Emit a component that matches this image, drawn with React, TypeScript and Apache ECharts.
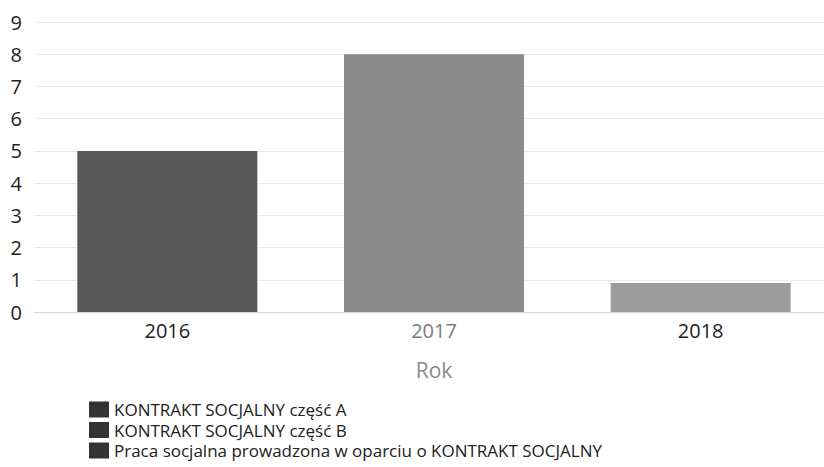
import React, { useEffect, useRef } from "react";
import * as echarts from "echarts";

const years = ["2016", "2017", "2018"];
const seriesNames = [
  "KONTRAKT SOCJALNY część A",
  "KONTRAKT SOCJALNY część B",
  "Praca socjalna prowadzona w oparciu o KONTRAKT SOCJALNY",
];
const partA: (number | string)[] = [5, "-", "-"];
const partB: (number | string)[] = ["-", 8, "-"];
const praca: (number | string)[] = ["-", "-", 0.9];
const yTicks = { min: 0, max: 9, interval: 1 };

const barColors = ["#595959", "#8a8a8a", "#9c9c9c"];
const labelColors = ["#222222", "#7a7a7a", "#222222"];

export default function App() {
  const ref = useRef<HTMLDivElement>(null);
  useEffect(() => {
    if (!ref.current) return;
    const chart = echarts.init(ref.current, null, { renderer: "svg" });
    const font = "'Open Sans', 'Noto Sans', sans-serif";
    const datasets = [partA, partB, praca];
    chart.setOption({
      animation: false,
      backgroundColor: "#ffffff",
      textStyle: { fontFamily: font },
      grid: { left: 34, right: 16, top: 22, bottom: 155, containLabel: false },
      legend: {
        orient: "vertical",
        left: 89,
        top: 401,
        padding: 0,
        itemWidth: 20,
        itemHeight: 16,
        itemGap: 3.5,
        icon: "rect",
        itemStyle: { color: "#333333" },
        textStyle: { fontSize: 17, lineHeight: 17, color: "#222222", fontFamily: font },
        data: seriesNames,
      },
      xAxis: {
        type: "category",
        data: years,
        name: "Rok",
        nameLocation: "middle",
        nameGap: 47,
        nameTextStyle: { fontSize: 21, color: "#8a8a8a", fontFamily: font },
        axisLine: { show: true, lineStyle: { color: "#d8d8d8" } },
        axisTick: { show: false },
        axisLabel: {
          fontSize: 20,
          margin: 8,
          fontFamily: font,
          color: (_v: any, i: number) => labelColors[i],
        },
      },
      yAxis: {
        type: "value",
        min: yTicks.min,
        max: yTicks.max,
        interval: yTicks.interval,
        axisLine: { show: false },
        axisTick: { show: false },
        axisLabel: { fontSize: 20, color: "#222222", margin: 12, fontFamily: font },
        splitLine: { lineStyle: { color: "#e8e8e8" } },
      },
      series: seriesNames.map((name, i) => ({
        name,
        type: "bar",
        stack: "total",
        barWidth: "67.5%",
        data: datasets[i],
        itemStyle: { color: barColors[i] },
      })),
    });
    return () => chart.dispose();
  }, []);
  return (
    <div
      style={{
        position: "fixed",
        left: 0,
        top: 0,
        width: 824,
        height: 467,
        overflow: "hidden",
        background: "#fff",
      }}
    >
      <div ref={ref} style={{ width: 850, height: 467 }} />
    </div>
  );
}
